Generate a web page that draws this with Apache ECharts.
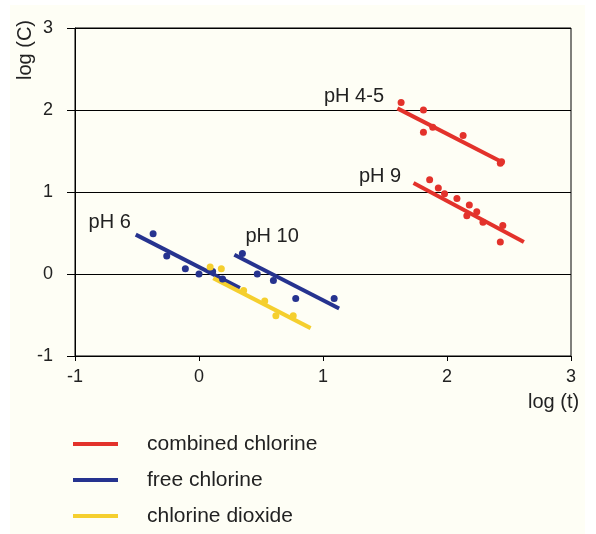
<!DOCTYPE html>
<html>
<head>
  <meta charset="utf-8" />
  <title>log C vs log t</title>
  <script src="https://cdn.jsdelivr.net/npm/echarts@6/dist/echarts.min.js"></script>
  <style>
    html, body { margin: 0; padding: 0; background: #fff; }
    #main { width: 596px; height: 534px; }
  </style>
</head>
<body>
  <div id="main"></div>
  <script>
    // axis ticks
    var xTicks = [-1, 0, 1, 2, 3];
    var yTicks = [-1, 0, 1, 2, 3];

    // measured points [log t, log C]
    var combinedPH45 = [[1.63, 2.09], [1.81, 2.0], [1.81, 1.73], [1.885, 1.79], [2.13, 1.69], [2.43, 1.35], [2.44, 1.37]];
    var combinedPH9 = [[1.86, 1.15], [1.93, 1.05], [1.98, 0.98], [2.08, 0.92], [2.18, 0.84], [2.24, 0.76], [2.16, 0.71], [2.29, 0.63], [2.45, 0.59], [2.43, 0.39]];
    var freePH6 = [[-0.37, 0.49], [-0.26, 0.22], [-0.11, 0.065], [0.0, 0.0], [0.11, 0.03], [0.19, -0.06]];
    var freePH10 = [[0.35, 0.25], [0.47, 0.0], [0.6, -0.08], [0.78, -0.3], [1.09, -0.3]];
    var dioxide = [[0.09, 0.085], [0.18, 0.065], [0.36, -0.2], [0.53, -0.33], [0.62, -0.51], [0.76, -0.51]];

    // fitted lines (end points)
    var fitPH45 = [[1.6, 2.02], [2.45, 1.36]];
    var fitPH9 = [[1.73, 1.11], [2.62, 0.39]];
    var fitPH6 = [[-0.51, 0.48], [0.33, -0.17]];
    var fitPH10 = [[0.285, 0.235], [1.13, -0.42]];
    var fitDioxide = [[0.115, -0.05], [0.9, -0.66]];

    // pH annotations
    var phNames = ['pH 4-5', 'pH 9', 'pH 6', 'pH 10'];
    var phPos = [[1.25, 2.17], [1.46, 1.19], [-0.72, 0.625], [0.59, 0.46]];

    var seriesNames = ['combined chlorine', 'free chlorine', 'chlorine dioxide'];
    var RED = '#e3322b', BLUE = '#26338f', YELLOW = '#f5cf2e';
    var FONT = 'Liberation Sans, Arial, sans-serif';

    function fitLine(name, data, color) {
      return {
        name: name, type: 'line', data: data, symbol: 'none', silent: true,
        lineStyle: { color: color, width: 4 }, itemStyle: { color: color }, z: 3
      };
    }
    function dots(name, data, color) {
      return {
        name: name, type: 'scatter', data: data, symbolSize: 7, silent: true,
        itemStyle: { color: color, opacity: 1 }, z: 4
      };
    }

    var labelData = phNames.map(function (n, i) { return { name: n, value: phPos[i] }; });

    var myChart = echarts.init(document.getElementById('main'));
    var option = {
      backgroundColor: '#ffffff',
      animation: false,
      textStyle: { fontFamily: FONT },
      graphic: [
        { type: 'rect', z: -10, shape: { x: 10, y: 5, width: 575, height: 529 }, style: { fill: '#fefef5' } },
        { type: 'text', x: 15, y: 80, rotation: Math.PI / 2, style: { text: 'log (C)', font: '20px ' + FONT, fill: '#222' } },
        { type: 'text', x: 528, y: 392, style: { text: 'log (t)', font: '20px ' + FONT, fill: '#222' } }
      ],
      grid: { left: 75, right: 25, top: 28, bottom: 178, show: true, borderColor: '#000', borderWidth: 1, backgroundColor: 'transparent' },
      legend: {
        orient: 'vertical', left: 73, top: 433, height: 110, padding: 0,
        itemWidth: 45, itemHeight: 4, itemGap: 14,
        icon: 'rect', selectedMode: false,
        data: seriesNames,
        textStyle: { fontSize: 21, color: '#222', padding: [0, 0, 0, 24], lineHeight: 22 }
      },
      xAxis: {
        type: 'value', min: xTicks[0], max: xTicks[xTicks.length - 1], interval: 1,
        axisLine: { onZero: false, lineStyle: { color: '#000', width: 1 } },
        axisTick: { show: true, length: 5, lineStyle: { color: '#000' } },
        axisLabel: { fontSize: 18, color: '#222', margin: 12 },
        splitLine: { show: false }
      },
      yAxis: {
        type: 'value', min: yTicks[0], max: yTicks[yTicks.length - 1], interval: 1,
        axisLine: { show: true, onZero: false, lineStyle: { color: '#000', width: 1 } },
        axisTick: { show: true, length: 8, lineStyle: { color: '#000' } },
        axisLabel: { fontSize: 18, color: '#222', margin: 22 },
        splitLine: { show: true, lineStyle: { color: '#000', width: 1 } }
      },
      series: [
        fitLine(seriesNames[0], fitPH45, RED),
        fitLine(seriesNames[0], fitPH9, RED),
        fitLine(seriesNames[1], fitPH6, BLUE),
        fitLine(seriesNames[1], fitPH10, BLUE),
        fitLine(seriesNames[2], fitDioxide, YELLOW),
        dots(seriesNames[0], combinedPH45, RED),
        dots(seriesNames[0], combinedPH9, RED),
        dots(seriesNames[1], freePH6, BLUE),
        dots(seriesNames[1], freePH10, BLUE),
        dots(seriesNames[2], dioxide, YELLOW),
        {
          name: 'labels', type: 'scatter', data: labelData, symbolSize: 0, silent: true,
          itemStyle: { color: '#222', opacity: 1 },
          label: {
            show: true, position: 'inside', formatter: '{b}', fontSize: 20,
            color: '#222', fontFamily: FONT, textBorderWidth: 0, opacity: 1
          }
        }
      ]
    };
    myChart.setOption(option);
  </script>
</body>
</html>
